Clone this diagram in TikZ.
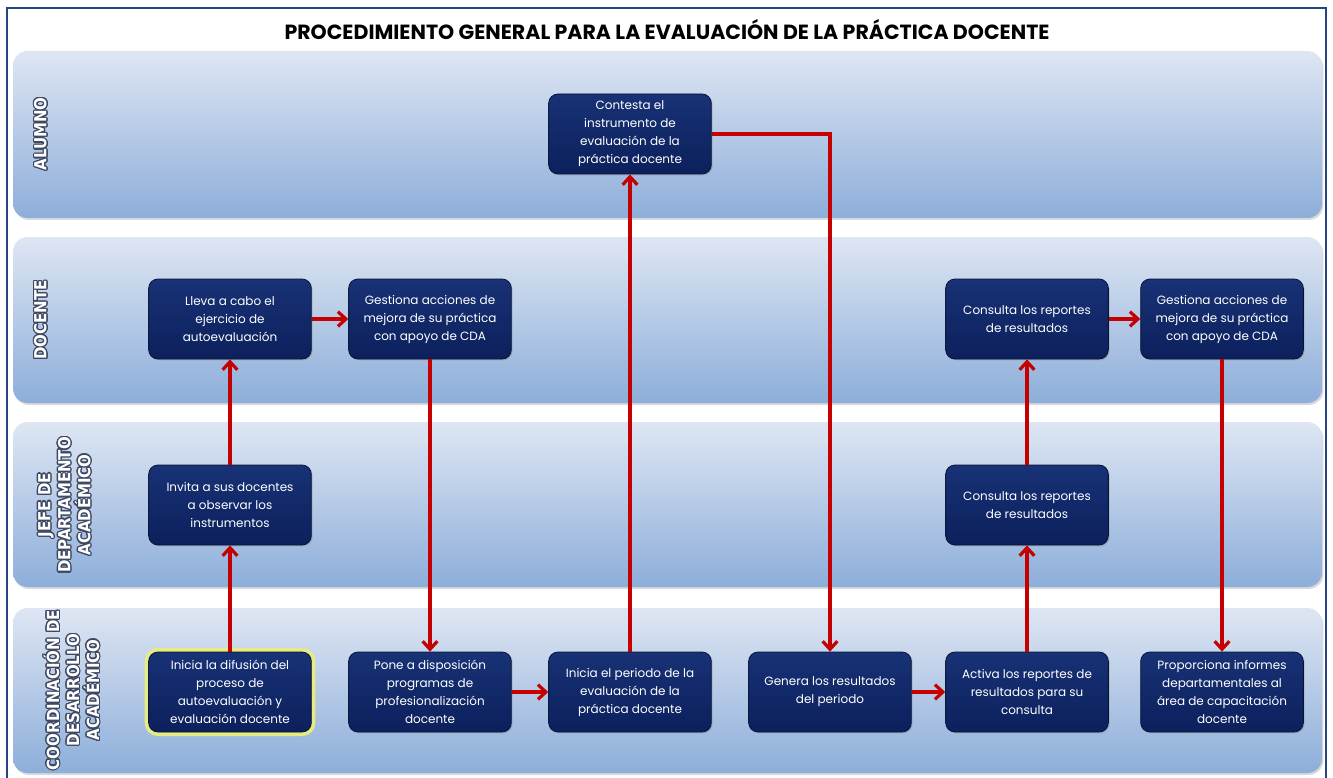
\documentclass[tikz,border=0pt]{standalone}
\usepackage{fontspec}
\setmainfont{Poppins}
\newfontfamily\lanefont{DejaVu Sans Condensed}
\usepackage{contour}
\contourlength{0.9pt}
\usetikzlibrary{arrows.meta,shadows}

\definecolor{flowred}{RGB}{196,0,0}
\definecolor{boxnavy}{RGB}{12,32,92}
\definecolor{boxtop}{RGB}{24,50,118}
\definecolor{boxedge}{RGB}{8,20,52}
\definecolor{lanetop}{RGB}{222,230,243}
\definecolor{lanemid}{RGB}{196,210,234}
\definecolor{lanebottom}{RGB}{141,174,218}
\definecolor{framebl}{RGB}{38,68,128}
\definecolor{glowyellow}{RGB}{230,236,130}
\definecolor{labeledge}{RGB}{62,72,98}

\begin{document}
\begin{tikzpicture}[x=0.75pt,y=-0.75pt]
      \tikzset{lane/.style={rounded corners=11pt, top color=lanetop, middle color=lanemid, bottom color=lanebottom,
                 drop shadow={opacity=0.3, shadow xshift=1pt, shadow yshift=-1.5pt}}}
      \tikzset{lanelabel/.style={rotate=90, align=center, text=white, font={\lanefont\bfseries\fontsize{12.5}{15}\selectfont}}}
      \tikzset{task/.style={rectangle, rounded corners=7pt, draw=boxedge, line width=0.6pt, top color=boxtop, bottom color=boxnavy,
                 text=white, minimum width=122pt, minimum height=60pt, inner sep=2pt, align=center,
                 font={\fontsize{9}{13.5}\selectfont}, drop shadow={opacity=0.35, shadow xshift=1pt, shadow yshift=-1pt}}}
      \tikzset{start/.style={task, preaction={draw=glowyellow, line width=6pt, rounded corners=8pt}}}
      \tikzset{flow/.style={draw=flowred, line width=2.4pt, -{Straight Barb[length=6pt,width=11pt]}}}
      \useasboundingbox (0,0) rectangle (1333,777);
%% Frame and title
      \draw [framebl, line width=1.5pt] (7,8) rectangle (1326,790);
      \node [font={\bfseries\fontsize{15.4}{17}\selectfont}] (title) at (667,30) {PROCEDIMIENTO GENERAL PARA LA EVALUACIÓN DE LA PRÁCTICA DOCENTE};
%% Lanes
      \shade [lane] (13,51) rectangle (1322,218);
      \shade [lane] (13,237) rectangle (1322,403);
      \shade [lane] (13,422) rectangle (1322,587);
      \shade [lane] (13,608) rectangle (1322,773);
	%lane names
      \node [lanelabel] (lalumno) at (41,134) {\contour{labeledge}{ALUMNO}};
      \node [lanelabel] (ldocente) at (41,320) {\contour{labeledge}{DOCENTE}};
      \node [lanelabel] (ljefe) at (65,505) {\contour{labeledge}{JEFE DE}\\\contour{labeledge}{DEPARTAMENTO}\\\contour{labeledge}{ACADÉMICO}};
      \node [lanelabel] (lcoord) at (72,690) {\contour{labeledge}{COORDINACIÓN DE}\\\contour{labeledge}{DESARROLLO}\\\contour{labeledge}{ACADÉMICO}};
%% Activities
	%alumno
      \node [task] (a3) at (630,134) {Contesta el\\instrumento de\\evaluación de la\\práctica docente};
	%docente
      \node [task] (d1) at (230,319) {Lleva a cabo el\\ejercicio de\\autoevaluación};
      \node [task] (d2) at (430,319) {Gestiona acciones de\\mejora de su práctica\\con apoyo de CDA};
      \node [task] (d5) at (1027,319) {Consulta los reportes\\de resultados};
      \node [task] (d6) at (1222,319) {Gestiona acciones de\\mejora de su práctica\\con apoyo de CDA};
	%jefe de departamento
      \node [task] (j1) at (230,505) {Invita a sus docentes\\a observar los\\instrumentos};
      \node [task] (j5) at (1027,505) {Consulta los reportes\\de resultados};
	%coordinacion
      \node [start] (c1) at (230,692) {Inicia la difusión del\\proceso de\\autoevaluación y\\evaluación docente};
      \node [task] (c2) at (430,692) {Pone a disposición\\programas de\\profesionalización\\docente};
      \node [task] (c3) at (630,692) {Inicia el periodo de la\\evaluación de la\\práctica docente};
      \node [task] (c4) at (830,692) {Genera los resultados\\del periodo};
      \node [task] (c5) at (1027,692) {Activa los reportes de\\resultados para su\\consulta};
      \node [task] (c6) at (1222,692) {Proporciona informes\\departamentales al\\área de capacitación\\docente};
%% Flow
      \path [flow] (c1) edge (j1);
      \path [flow] (j1) edge (d1);
      \path [flow] (d1) edge (d2);
      \path [flow] (d2) edge (c2);
      \path [flow] (c2) edge (c3);
      \path [flow] (c3) edge (a3);
      \draw [flow] (a3) -| (c4);
      \path [flow] (c4) edge (c5);
      \path [flow] (c5) edge (j5);
      \path [flow] (j5) edge (d5);
      \path [flow] (d5) edge (d6);
      \path [flow] (d6) edge (c6);
\end{tikzpicture}
\end{document}
